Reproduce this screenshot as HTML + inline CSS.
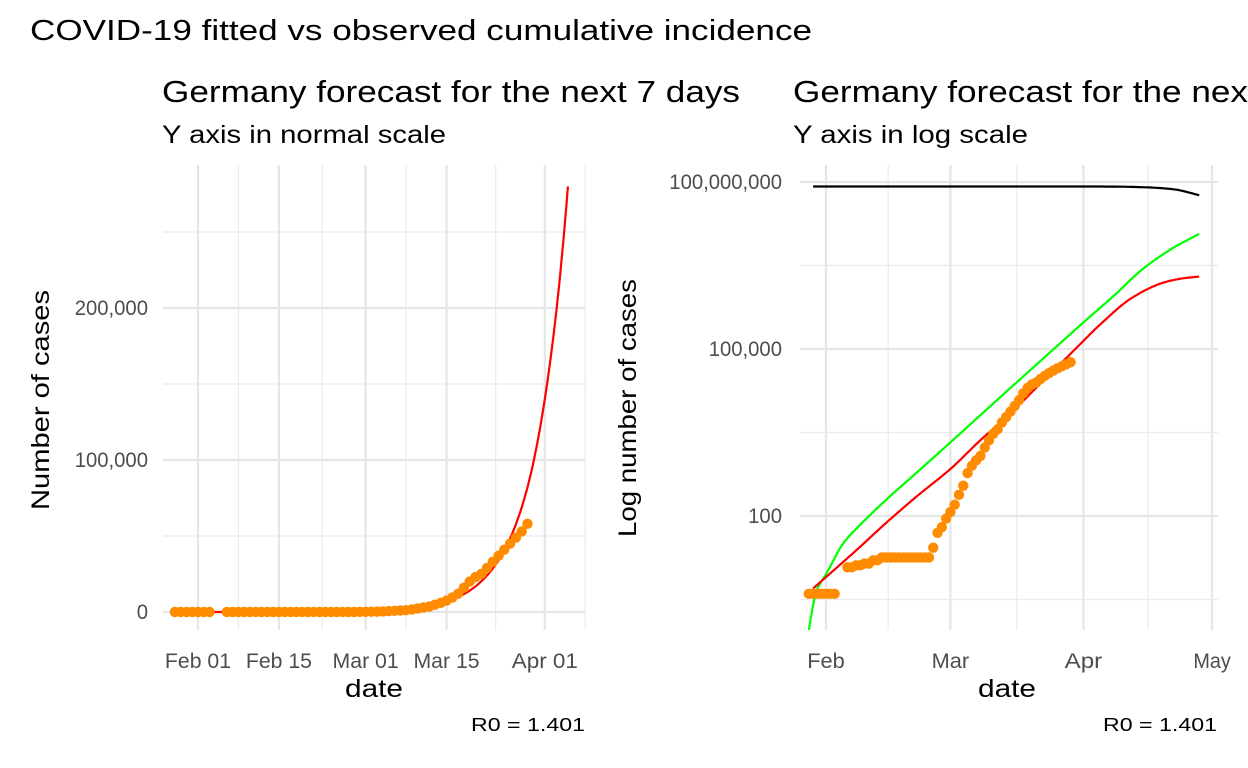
<!DOCTYPE html>
<html><head><meta charset="utf-8"><style>
html,body{margin:0;padding:0;background:#fff;overflow:hidden}
svg{display:block;font-family:"Liberation Sans",Arial,sans-serif}
</style></head><body>
<svg id="chart" width="1248" height="768" viewBox="0 0 1248 768">
<text x="30" y="40" font-size="29" textLength="782" lengthAdjust="spacingAndGlyphs">COVID-19 fitted vs observed cumulative incidence</text>
<g id="left"></g>
<g id="right"></g>
</svg>
<script>
const obsDays = [28,29,30,31,32,33,34,37,38,39,40,41,42,43,44,45,46,47,48,49,50,51,52,53,54,55,56,57,58,59,60,61,62,63,64,65,66,67,68,69,70,71,72,73,74,75,76,77,78,79,80,81,82,83,84,85,86,87,88,89];
const obsValues = [4,4,4,4,4,4,4,12,12,13,13,14,14,16,16,18,18,18,18,18,18,18,18,18,18,18,18,27,50,63,90,118,160,240,350,590,800,1000,1200,1700,2300,3000,3600,4800,6000,7500,9500,12000,16000,20000,23000,25000,29000,33000,37000,41000,45000,49000,53000,58000];
const redDays = [29,32,39,46,53,61,68,75,82,89,92,96,103,110,115,119];
const redValues = [5,8,24,75,220,700,2300,7000,24000,82000,140000,280000,800000,1500000,1850000,2000000];
const greenDays = [28,29,30,32,36,40,46,53,61,68,75,82,92,99,106,113,119];
const greenValues = [0.9,2.5,5,9,32,70,195,590,2100,6500,20000,61000,300000,890000,2800000,6600000,11700000];
const blackDays = [29,60,92,100,107,113,119];
const blackValues = [83e6,83e6,83e6,82.5e6,80e6,74e6,58e6];
const leftTickLabels = ["0","100,000","200,000"];
const leftTickValues = [0,100000,200000];
const leftDateLabels = ["Feb 01","Feb 15","Mar 01","Mar 15","Apr 01"];
const leftDateDays = [32,46,61,75,92];
const rightTickLabels = ["100","100,000","100,000,000"];
const rightTickValues = [100,100000,100000000];
const rightDateLabels = ["Feb","Mar","Apr","May"];
const rightDateDays = [32,61,92,122];

const NS="http://www.w3.org/2000/svg";
function mk(parent,tag,attrs,text){const e=document.createElementNS(NS,tag);for(const k in attrs)e.setAttribute(k,attrs[k]);if(text!==undefined)e.textContent=text;parent.appendChild(e);return e;}
function tw(s){let w=0;for(const ch of s){w+= ch===','?5.5: ch===' '?6: /[0-9]/.test(ch)?11.3:12.5;}return w;}

function panel(g,o){
  const {x0,x1,y0,y1,xs,ys,clip}=o;
  o.vMinor.forEach(d=>{const l=mk(g,'line',{x1:xs(d),x2:xs(d),y1:y0,y2:y1,stroke:'#ebebeb','stroke-width':1.2});
    
    });
  o.hMinor.forEach(v=>{const l=mk(g,'line',{x1:x0,x2:x1,y1:ys(v),y2:ys(v),stroke:'#ebebeb','stroke-width':1.2});
    
    });
  o.xDays.forEach(d=>{const l=mk(g,'line',{x1:xs(d),x2:xs(d),y1:y0,y2:y1,stroke:'#e6e6e6','stroke-width':2.2});
    
    });
  o.yVals.forEach(v=>{const l=mk(g,'line',{x1:x0,x2:x1,y1:ys(v),y2:ys(v),stroke:'#e6e6e6','stroke-width':2.2});
    
    });
  o.xDays.forEach((d,i)=>{const s=o.xLabels[i];const t=mk(g,'text',{x:xs(d),y:668,'font-size':21,fill:'#4d4d4d','text-anchor':'middle',textLength:tw(s).toFixed(1),lengthAdjust:'spacingAndGlyphs'},s);
    
    });
  o.yVals.forEach((v,i)=>{const s=o.yLabels[i];const t=mk(g,'text',{x:o.yLabX,y:ys(v)+7,'font-size':21,fill:'#4d4d4d','text-anchor':'end',textLength:tw(s).toFixed(1),lengthAdjust:'spacingAndGlyphs'},s);
    
    });
  const cg=mk(g,'g',{'clip-path':'url(#'+clip+')'});
  o.lines.forEach(L=>{
    const p=L.days.map((d,i)=>(i?'L':'M')+xs(d).toFixed(1)+','+ys(L.vals[i]).toFixed(1)).join('');
    const e=mk(cg,'path',{d:p,fill:'none',stroke:L.color,'stroke-width':2.2,'stroke-linejoin':'round'});
    
    
  });
  if(o.points){
    const pts=mk(cg,'g',{});
    
    
    obsDays.forEach((d,i)=>{const c=mk(pts,'circle',{cx:xs(d),cy:ys(obsValues[i]),r:5.2,fill:'#ff8c00'});
      
      });
  }
}
function smooth(days,vals){
  const n=days.length,y=vals.map(v=>Math.log10(v)),h=[],dl=[],m=new Array(n);
  for(let i=0;i<n-1;i++){h.push(days[i+1]-days[i]);dl.push((y[i+1]-y[i])/h[i]);}
  m[0]=dl[0];m[n-1]=dl[n-2];
  for(let i=1;i<n-1;i++){m[i]=(dl[i-1]*dl[i]<=0)?0:(h[i-1]+h[i])/( (h[i-1])/dl[i-1]+ (h[i])/dl[i]);}
  const D=[],V=[];
  for(let i=0;i<n-1;i++){for(let k=0;k<16;k++){const t=k/16,t2=t*t,t3=t2*t;
    const v=(2*t3-3*t2+1)*y[i]+(t3-2*t2+t)*h[i]*m[i]+(-2*t3+3*t2)*y[i+1]+(t3-t2)*h[i]*m[i+1];
    D.push(days[i]+h[i]*t);V.push(Math.pow(10,v));}}
  D.push(days[n-1]);V.push(vals[n-1]);return [D,V];
}
const svg=document.getElementById('chart');
const defs=mk(svg,'defs',{});
const c1=mk(defs,'clipPath',{id:'cl'});mk(c1,'rect',{x:163,y:165,width:422,height:465});
const c2=mk(defs,'clipPath',{id:'cr'});mk(c2,'rect',{x:800,y:165,width:418,height:465});
function label(g,name,attrs,text){const t=mk(g,'text',Object.assign({lengthAdjust:'spacingAndGlyphs'},attrs),text);
  
  return t;}

// LEFT
const L=document.getElementById('left');
const lxs=d=>198+(d-32)*5.78;
const lys=v=>612-v*0.00152;
const nL=redDays.filter(d=>d<=96).length;
const [rdL,rvL]=smooth(redDays.slice(0,nL),redValues.slice(0,nL));
panel(L,{x0:163,x1:585,y0:165,y1:630,xs:lxs,ys:lys,clip:'cl',
  vMinor:[39,53.5,68,83.5,99],hMinor:[50000,150000,250000],
  xDays:leftDateDays,xLabels:leftDateLabels,yVals:leftTickValues,yLabels:leftTickLabels,yLabX:148,
  lines:[{days:rdL,vals:rvL,color:'#ff0000',name:'fitted-line'}],points:true});
label(L,'left-subtitle',{x:162,y:102,'font-size':31,textLength:578},'Germany forecast for the next 7 days');
label(L,'left-caption',{x:162,y:143,'font-size':25,textLength:284},'Y axis in normal scale');
label(L,'left-y-axis-title',{x:0,y:0,'font-size':25,'text-anchor':'middle',textLength:220,transform:'translate(49,400) rotate(-90)'},'Number of cases');
label(L,'left-x-axis-title',{x:374,y:697,'font-size':25,'text-anchor':'middle',textLength:58},'date');
label(L,'left-r0-caption',{x:585,y:731,'font-size':18,'text-anchor':'end',textLength:114},'R0 = 1.401');

// RIGHT
const R=document.getElementById('right');
const rxs=d=>826+(d-32)*4.29;
const rys=v=>349-(Math.log10(v)-5)*55.67;
const [rd,rv]=smooth(redDays,redValues);
const [gd,gv]=smooth(greenDays,greenValues);
const [bd,bv]=smooth(blackDays,blackValues);
panel(R,{x0:800,x1:1218,y0:165,y1:630,xs:rxs,ys:rys,clip:'cr',
  vMinor:[46.5,76.5,107],hMinor:[Math.pow(10,0.5),Math.pow(10,3.5),Math.pow(10,6.5)],
  xDays:rightDateDays,xLabels:rightDateLabels,yVals:rightTickValues,yLabels:rightTickLabels,yLabX:782,
  lines:[{days:bd,vals:bv,color:'#000000',name:'susceptible-line'},{days:gd,vals:gv,color:'#00ff00',name:'green-line'},{days:rd,vals:rv,color:'#ff0000',name:'fitted-line'}],points:true});
label(R,'right-subtitle',{x:793,y:102,'font-size':31,textLength:578},'Germany forecast for the next 7 days');
label(R,'right-caption',{x:793,y:143,'font-size':25,textLength:235},'Y axis in log scale');
label(R,'right-y-axis-title',{x:0,y:0,'font-size':25,'text-anchor':'middle',textLength:258,transform:'translate(636,408) rotate(-90)'},'Log number of cases');
label(R,'right-x-axis-title',{x:1007,y:697,'font-size':25,'text-anchor':'middle',textLength:58},'date');
label(R,'right-r0-caption',{x:1217,y:731,'font-size':18,'text-anchor':'end',textLength:114},'R0 = 1.401');
</script>
</body></html>
